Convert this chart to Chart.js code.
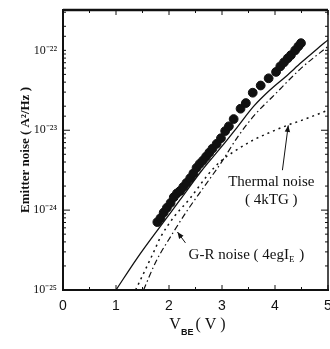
<!DOCTYPE html>
<html>
<head>
<meta charset="utf-8">
<script src="https://cdn.jsdelivr.net/npm/chart.js@4.4.1/dist/chart.umd.min.js"></script>
<style>
  html, body { margin: 0; padding: 0; background: #fff; overflow: hidden; }
  canvas { display: block; }
</style>
</head>
<body>
<canvas id="noiseChart" width="330" height="349"></canvas>
<script>
// measured emitter noise (dots)
const measuredV = [1.78, 1.84, 1.90, 1.96, 2.03, 2.09, 2.15, 2.21, 2.27, 2.33, 2.40, 2.46,
  2.52, 2.58, 2.64, 2.70, 2.76, 2.82, 2.90, 2.98, 3.06, 3.13, 3.22, 3.35, 3.45, 3.58,
  3.73, 3.88, 4.02, 4.10, 4.17, 4.24, 4.30, 4.38, 4.44, 4.49];
const measuredNoise = [7.08e-25, 7.94e-25, 9.33e-25, 1.07e-24, 1.23e-24, 1.45e-24, 1.62e-24,
  1.74e-24, 1.95e-24, 2.19e-24, 2.51e-24, 2.88e-24, 3.39e-24, 3.80e-24, 4.17e-24, 4.68e-24,
  5.25e-24, 5.89e-24, 6.76e-24, 7.94e-24, 9.77e-24, 1.12e-23, 1.38e-23, 1.86e-23, 2.19e-23,
  2.95e-23, 3.63e-23, 4.47e-23, 5.37e-23, 6.31e-23, 7.08e-23, 7.94e-23, 8.71e-23, 1.00e-22,
  1.12e-22, 1.23e-22];

// total (solid line)
const totalV = [1.0, 1.4, 1.84, 2.2, 2.6, 3.0, 3.3, 3.6, 3.9, 4.2, 4.5, 4.8, 5.0];
const totalNoise = [1.0e-25, 2.51e-25, 6.31e-25, 1.32e-24, 3.02e-24, 6.31e-24, 1.12e-23,
  2.0e-23, 3.16e-23, 4.68e-23, 7.08e-23, 1.05e-22, 1.35e-22];

// G-R noise (dash-dot)
const grV = [1.52, 1.75, 2.06, 2.35, 2.65, 2.97, 3.3, 3.6, 4.0, 4.5, 5.0];
const grNoise = [1.0e-25, 2.24e-25, 5.01e-25, 1.0e-24, 1.91e-24, 3.80e-24, 8.32e-24,
  1.51e-23, 2.82e-23, 6.03e-23, 1.12e-22];

// thermal noise (dotted)
const thermalV = [1.37, 1.7, 1.84, 2.1, 2.4, 2.73, 2.97, 3.22, 3.6, 3.86, 4.26, 4.49, 5.0];
const thermalNoise = [1.0e-25, 2.88e-25, 4.57e-25, 8.32e-25, 1.41e-24, 2.75e-24, 4.07e-24,
  5.37e-24, 7.59e-24, 9.12e-24, 1.17e-23, 1.32e-23, 1.78e-23];

const yMin = 1e-25;
const yMax = 3.2e-22;
const xMin = 0, xMax = 5;

const pts = (xs, ys) => xs.map((v, i) => ({ x: v, y: ys[i] }));

const sup = { '-': '⁻', '0': '⁰', '1': '¹', '2': '²', '3': '³', '4': '⁴', '5': '⁵',
  '6': '⁶', '7': '⁷', '8': '⁸', '9': '⁹' };

// text labels and arrows, placed in data coordinates
const labelThermal = { x: 3.93, y: 2.24e-24 };
const labelKTG = { x: 3.93, y: 1.33e-24 };
const labelGR = { x: 3.46, y: 2.75e-25 };
const arrowThermal = { from: { x: 4.14, y: 3.16e-24 }, to: { x: 4.25, y: 1.15e-23 } };
const arrowGR = { from: { x: 2.31, y: 3.89e-25 }, to: { x: 2.16, y: 5.31e-25 } };

function arrow(ctx, x1, y1, x2, y2) {
  const ang = Math.atan2(y2 - y1, x2 - x1);
  ctx.beginPath();
  ctx.moveTo(x1, y1);
  ctx.lineTo(x2, y2);
  ctx.stroke();
  ctx.beginPath();
  ctx.moveTo(x2, y2);
  ctx.lineTo(x2 - 7 * Math.cos(ang - 0.4), y2 - 7 * Math.sin(ang - 0.4));
  ctx.lineTo(x2 - 7 * Math.cos(ang + 0.4), y2 - 7 * Math.sin(ang + 0.4));
  ctx.closePath();
  ctx.fill();
}

const framePlugin = {
  id: 'frame',
  afterDraw(chart) {
    const { ctx, chartArea: a, scales: { x, y } } = chart;
    ctx.save();
    ctx.strokeStyle = '#111';
    ctx.fillStyle = '#111';

    // top and right borders
    ctx.lineWidth = 2.5;
    ctx.beginPath();
    ctx.moveTo(a.left, a.top);
    ctx.lineTo(a.right, a.top);
    ctx.stroke();
    ctx.lineWidth = 1.5;
    ctx.beginPath();
    ctx.moveTo(a.right, a.top);
    ctx.lineTo(a.right, a.bottom);
    ctx.stroke();

    // inner ticks
    ctx.lineWidth = 1;
    x.ticks.forEach(t => {
      const px = x.getPixelForValue(t.value);
      const len = Number.isInteger(t.value) ? 5 : 3;
      ctx.beginPath();
      ctx.moveTo(px, a.bottom); ctx.lineTo(px, a.bottom - len);
      ctx.moveTo(px, a.top); ctx.lineTo(px, a.top + len);
      ctx.stroke();
    });
    y.ticks.forEach(t => {
      const py = y.getPixelForValue(t.value);
      const len = t.major ? 7 : 3;
      ctx.beginPath();
      ctx.moveTo(a.left, py); ctx.lineTo(a.left + len, py);
      ctx.moveTo(a.right, py); ctx.lineTo(a.right - len, py);
      ctx.stroke();
    });

    // annotations
    ctx.font = '15px "Liberation Serif", serif';
    ctx.textAlign = 'center';
    ctx.textBaseline = 'middle';
    ctx.fillText('Thermal noise', x.getPixelForValue(labelThermal.x), y.getPixelForValue(labelThermal.y));
    ctx.fillText('( 4kTG )', x.getPixelForValue(labelKTG.x), y.getPixelForValue(labelKTG.y));

    const gx = x.getPixelForValue(labelGR.x);
    const gy = y.getPixelForValue(labelGR.y);
    const partA = 'G-R noise ( 4egI';
    const partC = ' )';
    ctx.font = '15px "Liberation Serif", serif';
    const wA = ctx.measureText(partA).width;
    const wC = ctx.measureText(partC).width;
    ctx.font = '9px "Liberation Serif", serif';
    const wB = ctx.measureText('E').width + 1;
    let sx = gx - (wA + wB + wC) / 2;
    ctx.textAlign = 'left';
    ctx.font = '15px "Liberation Serif", serif';
    ctx.fillText(partA, sx, gy);
    ctx.font = '9px "Liberation Serif", serif';
    ctx.fillText('E', sx + wA, gy + 5);
    ctx.font = '15px "Liberation Serif", serif';
    ctx.fillText(partC, sx + wA + wB, gy);

    ctx.lineWidth = 1;
    arrow(ctx, x.getPixelForValue(arrowThermal.from.x), y.getPixelForValue(arrowThermal.from.y),
      x.getPixelForValue(arrowThermal.to.x), y.getPixelForValue(arrowThermal.to.y));
    arrow(ctx, x.getPixelForValue(arrowGR.from.x), y.getPixelForValue(arrowGR.from.y),
      x.getPixelForValue(arrowGR.to.x), y.getPixelForValue(arrowGR.to.y));

    // x axis title V_BE (V)
    const cx = (a.left + a.right) / 2 + 2;
    const ty = a.bottom + 35;
    ctx.font = '16px "Liberation Serif", serif';
    const wV = ctx.measureText('V').width;
    const wP = ctx.measureText('( V )').width;
    ctx.font = 'bold 9px "Liberation Sans", sans-serif';
    const wBE = ctx.measureText('BE').width + 2;
    sx = cx - (wV + wBE + wP) / 2;
    ctx.font = '16px "Liberation Serif", serif';
    ctx.fillText('V', sx, ty);
    ctx.font = 'bold 9px "Liberation Sans", sans-serif';
    ctx.fillText('BE', sx + wV, ty + 8);
    ctx.font = '16px "Liberation Serif", serif';
    ctx.fillText('( V )', sx + wV + wBE, ty);
    ctx.restore();
  }
};

new Chart(document.getElementById('noiseChart'), {
  type: 'scatter',
  data: {
    datasets: [
      {
        label: 'Measured',
        data: pts(measuredV, measuredNoise),
        backgroundColor: '#111',
        borderColor: '#111',
        pointRadius: 4.4,
        pointHoverRadius: 4.4,
        showLine: false
      },
      {
        label: 'Total',
        data: pts(totalV, totalNoise),
        showLine: true,
        borderColor: '#111',
        borderWidth: 1.3,
        pointRadius: 0,
        cubicInterpolationMode: 'monotone'
      },
      {
        label: 'G-R noise',
        data: pts(grV, grNoise),
        showLine: true,
        borderColor: '#111',
        borderWidth: 1.2,
        borderDash: [6, 3, 1.5, 3],
        pointRadius: 0,
        cubicInterpolationMode: 'monotone'
      },
      {
        label: 'Thermal noise',
        data: pts(thermalV, thermalNoise),
        showLine: true,
        borderColor: '#111',
        borderWidth: 1.5,
        borderDash: [2, 4],
        pointRadius: 0,
        cubicInterpolationMode: 'monotone'
      }
    ]
  },
  options: {
    responsive: false,
    animation: false,
    devicePixelRatio: 1,
    layout: { autoPadding: false, padding: { top: 10, right: 2, left: 0, bottom: 0 } },
    plugins: {
      legend: { display: false },
      tooltip: { enabled: false }
    },
    scales: {
      x: {
        type: 'linear',
        min: xMin,
        max: xMax,
        afterFit: s => { s.height = 59; s.paddingLeft = 0; s.paddingRight = 0; },
        grid: { display: false, drawTicks: false },
        border: { display: true, color: '#111', width: 2 },
        ticks: {
          stepSize: 0.5,
          padding: 8,
          color: '#111',
          font: { family: '"Liberation Sans", sans-serif', size: 14 },
          callback: v => Number.isInteger(v) ? String(v) : ''
        }
      },
      y: {
        type: 'logarithmic',
        min: yMin,
        max: yMax,
        afterFit: s => { s.width = 63; s.paddingTop = 0; s.paddingBottom = 0; },
        afterBuildTicks: s => {
          const seen = new Set();
          s.ticks = s.ticks.filter(t => {
            const k = t.value.toPrecision(6);
            if (seen.has(k)) return false;
            seen.add(k);
            return true;
          });
        },
        grid: { display: false, drawTicks: false },
        border: { display: true, color: '#111', width: 2 },
        ticks: {
          autoSkip: false,
          padding: 6,
          color: '#111',
          font: { family: '"Liberation Serif", serif', size: 12 },
          callback: v => {
            const e = Math.log10(v);
            if (Math.abs(e - Math.round(e)) > 1e-6) return '';
            return '10' + String(Math.round(e)).split('').map(c => sup[c]).join('');
          }
        },
        title: {
          display: true,
          text: 'Emitter noise ( A²/Hz )',
          color: '#111',
          font: { family: '"Liberation Serif", serif', size: 13, weight: 'bold' },
          padding: { top: 18, bottom: 0 }
        }
      }
    }
  },
  plugins: [framePlugin]
});
</script>
</body>
</html>
